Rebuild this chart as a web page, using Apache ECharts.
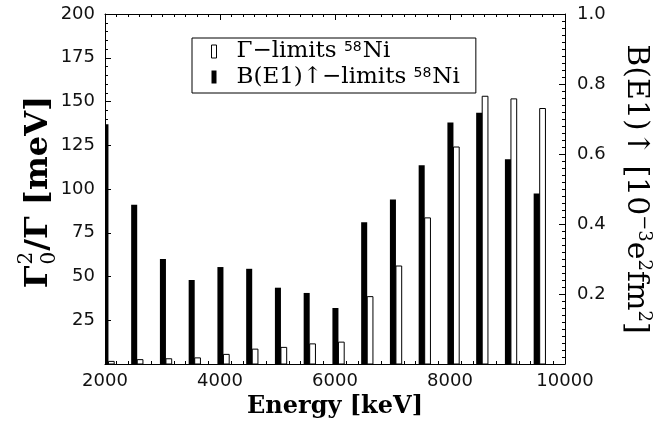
<!DOCTYPE html>
<html><head><meta charset="utf-8">
<script src="https://cdn.jsdelivr.net/npm/echarts@6/dist/echarts.min.js"></script>
<style>html,body{margin:0;padding:0;background:#fff}#c{width:672px;height:426px}</style>
</head><body><div id="c"></div>
<script>
// Energies of the resonances (keV)
const energies = [2000, 2500, 3000, 3500, 4000, 4500, 5000, 5500, 6000, 6500, 7000, 7500, 8000, 8500, 9000, 9500];
// Gamma_0^2/Gamma limits (meV), open bars, left axis
const gammaLimits = [1.5, 2.5, 3, 3.5, 5.5, 8.5, 9.5, 11.5, 12.5, 38.5, 56, 83.5, 124, 153, 151.5, 146];
// B(E1)up limits (10^-3 e^2 fm^2), filled bars, right axis
const be1Limits = [0.685, 0.455, 0.30, 0.24, 0.277, 0.272, 0.218, 0.203, 0.16, 0.405, 0.47, 0.568, 0.69, 0.718, 0.585, 0.487];
// Axis tick settings
const xRange = [2000, 10000], xStep = 2000;
const yLeftRange = [0, 200], yLeftStep = 25;
const yRightRange = [0, 1], yRightStep = 0.2;

const nameGamma = 'Γ−limits 58Ni';
const nameBE1 = 'B(E1)↑−limits 58Ni';

const chart = echarts.init(document.getElementById('c'), null, {renderer: 'canvas'});

function barItem(lo, hi, style) {
  return function (params, api) {
    const e = api.value(0), v = api.value(1);
    const p0 = api.coord([e + lo, v]);
    const p1 = api.coord([e + hi, 0]);
    return {type: 'rect', shape: {x: p0[0], y: p0[1], width: p1[0] - p0[0], height: p1[1] - p0[1]}, style: style};
  };
}

const meas = document.createElement('canvas').getContext('2d');
function tw(t, f) { meas.font = f; return meas.measureText(t).width; }

const fBig = 'bold 32px "DejaVu Serif"';
const fSm = '20px "DejaVu Serif"';
const wG = tw('Γ', fBig), wS = tw('2', fSm), wR = tw('/Γ [meV]', fBig);
const tot = wG + wS + 2 + wR;
const x0 = -tot / 2;
function txt(t, x, y, f) {
  return {type: 'text', x: x, y: y, style: {text: t, font: f, fill: '#000', align: 'left', textAlign: 'left', verticalAlign: 'middle', textVerticalAlign: 'middle'}};
}

function tick() { return {show: true, inside: true, length: 6, lineStyle: {color: '#000', width: 1}}; }
function minor(n) { return {show: true, splitNumber: n, length: 3, lineStyle: {color: '#000', width: 1}}; }
const line = {show: true, onZero: false, lineStyle: {color: '#000', width: 1}};

chart.setOption({
  animation: false,
  backgroundColor: '#fff',
  grid: {left: 105, right: 107, top: 14, bottom: 62},
  legend: {
    left: 192, top: 38, orient: 'vertical',
    padding: [2, 16, 3, 19],
    itemGap: 1, itemWidth: 5, itemHeight: 13,
    borderColor: '#000', borderWidth: 1,
    formatter: n => n.replace('58', '{s|58}'),
    textStyle: {fontFamily: 'DejaVu Serif', fontSize: 23, lineHeight: 22, color: '#000', padding: [0, 0, 0, 15],
      rich: {s: {fontFamily: 'DejaVu Sans', fontSize: 14, lineHeight: 22, verticalAlign: 'top', color: '#000', padding: [0, 1, 10, 0]}}},
    data: [
      {name: nameGamma, icon: 'rect', itemStyle: {color: '#fff', borderColor: '#000', borderWidth: 1}},
      {name: nameBE1, icon: 'rect', itemStyle: {color: '#000', borderWidth: 0}}
    ]
  },
  xAxis: [
    {
      type: 'value', position: 'bottom', min: xRange[0], max: xRange[1], interval: xStep,
      axisLine: line, axisTick: tick(), minorTick: minor(10), splitLine: {show: false},
      axisLabel: {fontFamily: 'DejaVu Sans', fontSize: 18, color: '#111', margin: 8, formatter: v => String(v)},
      name: 'Energy [keV]', nameLocation: 'middle', nameGap: 27,
      nameTextStyle: {fontFamily: 'DejaVu Serif', fontWeight: 'bold', fontSize: 24, color: '#000'}
    },
    {
      type: 'value', position: 'top', min: xRange[0], max: xRange[1], interval: xStep,
      axisLine: line, axisTick: tick(), minorTick: minor(10), splitLine: {show: false},
      axisLabel: {show: false}
    }
  ],
  yAxis: [
    {
      type: 'value', position: 'left', min: yLeftRange[0], max: yLeftRange[1], interval: yLeftStep,
      axisLine: line, axisTick: tick(), minorTick: minor(5), splitLine: {show: false},
      axisLabel: {fontFamily: 'DejaVu Sans', fontSize: 18, color: '#111', margin: 10,
        formatter: v => v === 0 ? '' : String(v)}
    },
    {
      type: 'value', position: 'right', min: yRightRange[0], max: yRightRange[1], interval: yRightStep,
      axisLine: line, axisTick: tick(), minorTick: minor(10), splitLine: {show: false},
      axisLabel: {fontFamily: 'DejaVu Sans', fontSize: 18, color: '#111', margin: 12,
        formatter: v => v === 0 ? '' : v.toFixed(1)}
    }
  ],
  series: [
    {
      name: nameGamma, type: 'custom', xAxisIndex: 0, yAxisIndex: 0, clip: true, z: 1,
      itemStyle: {color: '#fff', borderColor: '#000'},
      renderItem: barItem(60, 160, {fill: '#fff', stroke: '#000', lineWidth: 1}),
      data: energies.map((e, i) => [e, gammaLimits[i]])
    },
    {
      name: nameBE1, type: 'custom', xAxisIndex: 0, yAxisIndex: 1, clip: true, z: 1,
      itemStyle: {color: '#000'},
      renderItem: barItem(-45, 60, {fill: '#000'}),
      data: energies.map((e, i) => [e, be1Limits[i]])
    }
  ],
  graphic: [
    {
      type: 'group', x: 39, y: 192, rotation: Math.PI / 2,
      children: [
        txt('Γ', x0, 0, fBig),
        txt('2', x0 + wG + 1, -12, fSm),
        txt('0', x0 + wG + 1, 11, fSm),
        txt('/Γ [meV]', x0 + wG + wS + 2, 0, fBig)
      ]
    },
    {
      type: 'text', x: 636, y: 189, rotation: -Math.PI / 2,
      style: {
        text: 'B(E1)↑ [10{s|−3}e{s|2}fm{s|2}]',
        font: '30px "DejaVu Serif"', fill: '#000',
        align: 'center', textAlign: 'center', verticalAlign: 'middle', textVerticalAlign: 'middle',
        rich: {s: {fontFamily: 'DejaVu Serif', fontSize: 18, verticalAlign: 'top', fill: '#000', padding: [0, 0, 16, 0]}}
      }
    }
  ]
});
</script></body></html>
